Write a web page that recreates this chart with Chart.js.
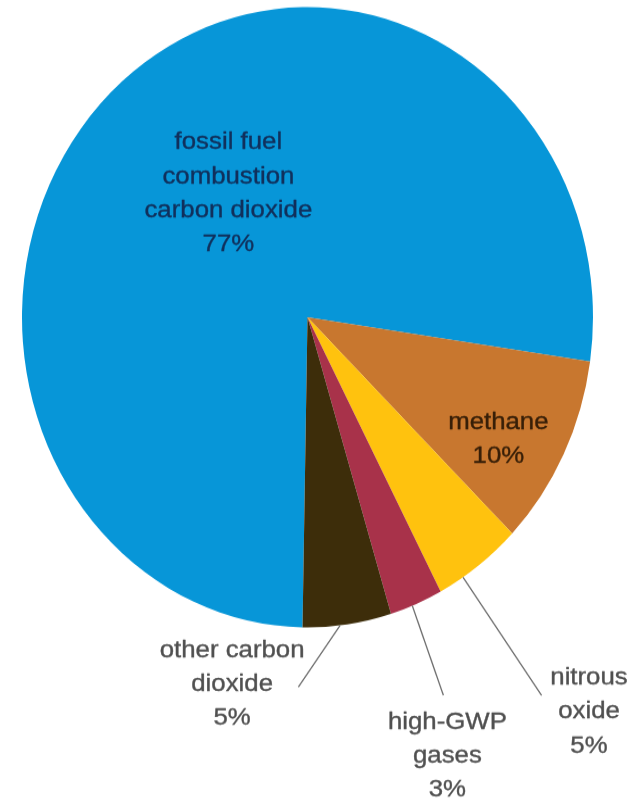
<!DOCTYPE html>
<html>
<head>
<meta charset="utf-8">
<title>U.S. greenhouse gas emissions by gas</title>
<script src="https://cdn.jsdelivr.net/npm/chart.js@4/dist/chart.umd.min.js"></script>
<style>
  html, body { margin: 0; padding: 0; background: #ffffff; width: 633px; height: 805px; overflow: hidden; }
  /* the pie is drawn slightly taller than wide */
  #stage { width: 633px; height: 741px; transform: scaleY(1.0864); transform-origin: 0 0; }
  #chart { display: block; width: 633px; height: 741px; }
</style>
</head>
<body>
<div id="stage"><canvas id="chart" width="633" height="741"></canvas></div>
<script>
// Share of emissions by gas (percent)
const categories = [
  ['fossil fuel', 'combustion', 'carbon dioxide'],
  ['methane'],
  ['nitrous', 'oxide'],
  ['high-GWP', 'gases'],
  ['other carbon', 'dioxide']
];
const shares = [77, 10, 5, 3, 5];

// Slice fills
const sliceColors = ['#0796D8', '#C8772F', '#FFC20E', '#A8324A', '#3D2D0A'];

// Label placement, in units of the pie radius.
// Inside labels sit at fraction t of the slice's sweep, rf of the radius out.
// Outside labels get a leader line from the rim to `end`, text block centred on `text`.
const labelLayout = [
  { inside: true, t: 0.52, rf: 0.485, color: '#11305c' },
  { inside: true, t: 0.62, rf: 0.776, color: '#371f08' },
  { t: 0.71, end: [0.820, 1.219], text: [0.986, 1.273], color: '#505050' },
  { t: 0.58, end: [0.476, 1.219], text: [0.490, 1.416], color: '#505050' },
  { t: 0.58, end: [-0.032, 1.192], text: [-0.264, 1.184], color: '#505050' }
];

const FONT_SIZE = 21.5;
const LINE_GAP = 31.3;
const TEXT_WIDEN = 1.2;

const sliceLabels = {
  id: 'sliceLabels',
  afterDatasetsDraw(chart) {
    const ctx = chart.ctx;
    const meta = chart.getDatasetMeta(0);
    meta.data.forEach((arc, i) => {
      const p = arc.getProps(['x', 'y', 'startAngle', 'endAngle', 'outerRadius'], true);
      const lay = labelLayout[i];
      const a = p.startAngle + (p.endAngle - p.startAngle) * lay.t;
      const r = p.outerRadius;
      let cx, cy;
      ctx.save();
      if (lay.inside) {
        cx = p.x + Math.cos(a) * r * lay.rf;
        cy = p.y + Math.sin(a) * r * lay.rf;
      } else {
        const sx = p.x + Math.cos(a) * r;
        const sy = p.y + Math.sin(a) * r;
        ctx.strokeStyle = '#6e6e6e';
        ctx.lineWidth = 1.3;
        ctx.beginPath();
        ctx.moveTo(sx, sy);
        ctx.lineTo(p.x + lay.end[0] * r, p.y + lay.end[1] * r);
        ctx.stroke();
        cx = p.x + lay.text[0] * r;
        cy = p.y + lay.text[1] * r;
      }
      const lines = categories[i].concat([shares[i] + '%']);
      ctx.fillStyle = lay.color;
      ctx.strokeStyle = lay.color;
      ctx.lineWidth = 0.35;
      ctx.lineJoin = 'round';
      ctx.font = FONT_SIZE + 'px "Liberation Sans", Arial, sans-serif';
      ctx.textAlign = 'center';
      ctx.textBaseline = 'middle';
      lines.forEach((txt, k) => {
        const ly = cy + (k - (lines.length - 1) / 2) * LINE_GAP;
        ctx.save();
        ctx.translate(cx, ly);
        ctx.scale(TEXT_WIDEN, 1);
        ctx.fillText(txt, 0, 0);
        ctx.strokeText(txt, 0, 0);
        ctx.restore();
      });
      ctx.restore();
    });
  }
};

new Chart(document.getElementById('chart'), {
  type: 'pie',
  data: {
    labels: categories.map(c => c.join(' ')),
    datasets: [{
      data: shares,
      backgroundColor: sliceColors,
      borderWidth: 0,
      hoverOffset: 0
    }]
  },
  options: {
    responsive: false,
    animation: false,
    events: [],
    rotation: 181,
    layout: { padding: { left: 22, right: 40, top: 6.5, bottom: 163.5 } },
    plugins: {
      legend: { display: false },
      tooltip: { enabled: false }
    }
  },
  plugins: [sliceLabels]
});
</script>
</body>
</html>
